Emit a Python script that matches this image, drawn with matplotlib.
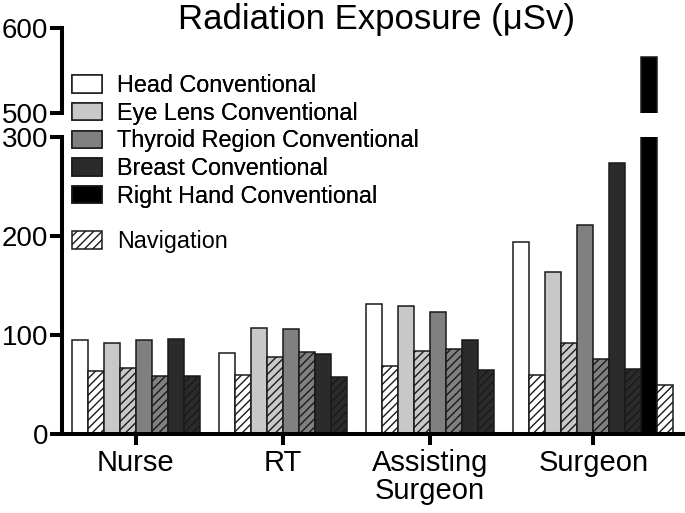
import numpy as np
import matplotlib
matplotlib.use("Agg")
import matplotlib.pyplot as plt
from matplotlib.patches import Patch

plt.rcParams['font.family'] = ['Liberation Sans', 'DejaVu Sans']
plt.rcParams['hatch.linewidth'] = 1.0

groups = ["Nurse", "RT", "Assisting\nSurgeon", "Surgeon"]
regions = ["Head", "Eye Lens", "Thyroid Region", "Breast", "Right Hand"]

# conventional values per region, one value per group (nan = not measured)
head_conv = [95, 82, 131, 194]
eye_conv = [92, 107, 129, 164]
thyroid_conv = [95, 106, 123, 211]
breast_conv = [96, 81, 95, 274]
hand_conv = [np.nan, np.nan, np.nan, 566]

# navigation values
head_nav = [64, 60, 69, 60]
eye_nav = [67, 78, 84, 92]
thyroid_nav = [59, 83, 86, 76]
breast_nav = [59, 58, 65, 66]
hand_nav = [np.nan, np.nan, np.nan, 49]

conv = [head_conv, eye_conv, thyroid_conv, breast_conv, hand_conv]
nav = [head_nav, eye_nav, thyroid_nav, breast_nav, hand_nav]

conv_colors = ["white", "#c8c8c8", "#808080", "#2b2b2b", "black"]
nav_colors = ["white", "#c8c8c8", "#808080", "#2b2b2b", "white"]

fig = plt.figure(figsize=(6.85, 5.13), dpi=100)
H = 513.0
left = 62 / 685
width = (683 - 62) / 685
ax = fig.add_axes([left, 1 - 434 / H, width, (434 - 137) / H])
ax_top = fig.add_axes([left, 1 - 113 / H, width, (113 - 28) / H])

gap = 1.2
cur = 0.6
centers = []
for g in range(len(groups)):
    start = cur
    for r in range(len(regions)):
        if np.isnan(conv[r][g]):
            continue
        for a in (ax, ax_top):
            a.bar(cur + 0.5, conv[r][g], width=1.0, color=conv_colors[r],
                  edgecolor="#1a1a1a", linewidth=1.1)
            a.bar(cur + 1.5, nav[r][g], width=1.0, color=nav_colors[r],
                  edgecolor="#1a1a1a", linewidth=1.1, hatch="////")
        cur += 2
    centers.append((start + cur) / 2)
    cur += gap
xmax = cur - gap + 0.6

for a in (ax, ax_top):
    a.set_xlim(0, xmax)
    a.spines["top"].set_visible(False)
    a.spines["right"].set_visible(False)
    a.spines["left"].set_linewidth(2.9)
    a.spines["bottom"].set_linewidth(2.9)
    a.tick_params(axis="y", length=9, width=2.9, labelsize=20, pad=1)
    a.tick_params(axis="x", length=8, width=2.9, labelsize=21, pad=3)

ax.set_ylim(0, 300)
ax.set_yticks([0, 100, 200, 300])
ax.set_xticks(centers)
ax.set_xticklabels(groups, linespacing=1.0)

ax_top.set_ylim(500, 600)
ax_top.set_yticks([500, 600])
ax_top.spines["bottom"].set_visible(False)
ax_top.set_xticks([])
ax_top.patch.set_visible(False)

fig.text(0.55, 1 - 29 / H, "Radiation Exposure (\u03bcSv)", fontsize=25,
         ha="center", va="baseline")

labels = ["Head Conventional", "Eye Lens Conventional",
          "Thyroid Region Conventional", "Breast Conventional",
          "Right Hand Conventional"]
handles = [Patch(facecolor=c, edgecolor="#1a1a1a", linewidth=1.1) for c in conv_colors]
leg_style = dict(loc="upper left", frameon=False, fontsize=16.8, borderpad=0,
                 borderaxespad=0, handlelength=1.28, handleheight=0.77,
                 handletextpad=0.64, labelspacing=0.2)
leg1 = fig.legend(handles, labels, bbox_to_anchor=(72 / 685, 1 - 74 / H), **leg_style)
nav_handle = Patch(facecolor="white", edgecolor="#1a1a1a", linewidth=1.1, hatch="////")
fig.legend([nav_handle], ["Navigation"], bbox_to_anchor=(72 / 685, 1 - 230 / H), **leg_style)
fig.add_artist(leg1)

fig.savefig("out.png", dpi=100)
